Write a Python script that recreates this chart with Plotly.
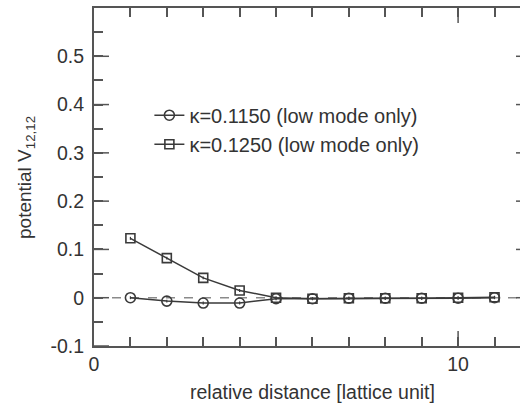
import plotly.graph_objects as go

distance = [1, 2, 3, 4, 5, 6, 7, 8, 9, 10, 11]
v_k1150 = [0.000, -0.007, -0.011, -0.011, -0.002, -0.002, -0.001, -0.001, -0.001, -0.001, 0.000]
v_k1250 = [0.123, 0.082, 0.041, 0.015, 0.000, -0.002, -0.001, -0.001, -0.001, 0.000, 0.001]
err = [0.003] * 11
names = ["\u03ba=0.1150 (low mode only)", "\u03ba=0.1250 (low mode only)"]

x_minor = list(range(0, 12))
x_major = [0, 10]
y_minor = [round(-0.1 + 0.05 * i, 2) for i in range(14)]
y_major = [-0.1, 0.0, 0.1, 0.2, 0.3, 0.4, 0.5]
y_labels = ["-0.1", "0", "0.1", "0.2", "0.3", "0.4", "0.5"]

FONT = "Liberation Sans, Arial, sans-serif"
AX = "#555555"
LINE = "#3a3a3a"
TXT = "#333333"
XR = [0, 11.70]
YR = [-0.1, 0.6]

fig = go.Figure()
fig.add_trace(go.Scatter(
    x=distance, y=v_k1150, name=names[0], mode="lines+markers",
    line=dict(color=LINE, width=1.5),
    marker=dict(symbol="circle-open", size=10, color=LINE, line=dict(width=1.6)),
    error_y=dict(type="data", array=err, color=LINE, thickness=1.2, width=0),
))
fig.add_trace(go.Scatter(
    x=distance, y=v_k1250, name=names[1], mode="lines+markers",
    line=dict(color=LINE, width=1.5),
    marker=dict(symbol="square-open", size=9, color=LINE, line=dict(width=1.6)),
    error_y=dict(type="data", array=err, color=LINE, thickness=1.2, width=0),
))

fig.add_shape(type="line", xref="paper", x0=0, x1=1, yref="y", y0=0, y1=0,
              line=dict(color="#8a8a8a", width=1.5, dash="dash"), layer="below")

# longer major ticks (bottom and top) at x = 10
for xv in x_major:
    if xv == 0:
        continue
    fig.add_shape(type="line", xref="x", x0=xv, x1=xv, yref="paper",
                  ysizemode="pixel", yanchor=0, y0=0, y1=15,
                  line=dict(color=AX, width=1.5))
    fig.add_shape(type="line", xref="x", x0=xv, x1=xv, yref="paper",
                  ysizemode="pixel", yanchor=1, y0=0, y1=-15,
                  line=dict(color=AX, width=1.5))
# longer major ticks on the left axis, short stubs on the (cropped) right axis
for yv in y_major:
    fig.add_shape(type="line", yref="y", y0=yv, y1=yv, xref="paper",
                  xsizemode="pixel", xanchor=0, x0=0, x1=15,
                  line=dict(color=AX, width=1.5))
    if yv > -0.1:
        fig.add_shape(type="line", yref="y", y0=yv, y1=yv, xref="paper",
                      xsizemode="pixel", xanchor=1, x0=-4, x1=0,
                      line=dict(color=AX, width=1.5))

fig.update_layout(
    width=520, height=403,
    margin=dict(l=94, r=0, t=8, b=57),
    paper_bgcolor="white", plot_bgcolor="white",
    font=dict(family=FONT, size=19, color=TXT),
    showlegend=True,
    legend=dict(x=0.13, y=0.64, xanchor="left", yanchor="middle",
                bgcolor="rgba(0,0,0,0)", itemwidth=30,
                font=dict(size=20, family=FONT, color=TXT),
                tracegroupgap=0),
    xaxis=dict(range=XR, tickmode="array", tickvals=x_minor,
               ticktext=[str(v) if v in x_major else "" for v in x_minor],
               ticks="inside", ticklen=9, tickwidth=1.5, tickcolor=AX,
               showline=True, linecolor=AX, linewidth=2, mirror="ticks",
               showgrid=False, zeroline=False,
               tickfont=dict(size=19.5)),
    yaxis=dict(range=YR, tickmode="array", tickvals=y_minor,
               ticktext=[y_labels[y_major.index(v)] if v in y_major else "" for v in y_minor],
               ticks="inside", ticklen=9, tickwidth=1.5, tickcolor=AX,
               showline=True, linecolor=AX, linewidth=2, mirror=False,
               showgrid=False, zeroline=False, ticklabelstandoff=4,
               tickfont=dict(size=19.5)),
)

fig.add_annotation(text="relative distance [lattice unit]", xref="paper", yref="paper",
                   x=(312 - 94) / 426, y=-(392 - 346) / 338, xanchor="center", yanchor="middle",
                   showarrow=False, font=dict(size=19.5, family=FONT, color=TXT))
fig.add_annotation(text="potential V<sub>12,12</sub>", xref="paper", yref="paper",
                   x=(26 - 94) / 426, y=1 - (178 - 8) / 338, xanchor="center", yanchor="middle",
                   textangle=-90, showarrow=False,
                   font=dict(size=19, family=FONT, color=TXT))

fig.write_html("out.html")
